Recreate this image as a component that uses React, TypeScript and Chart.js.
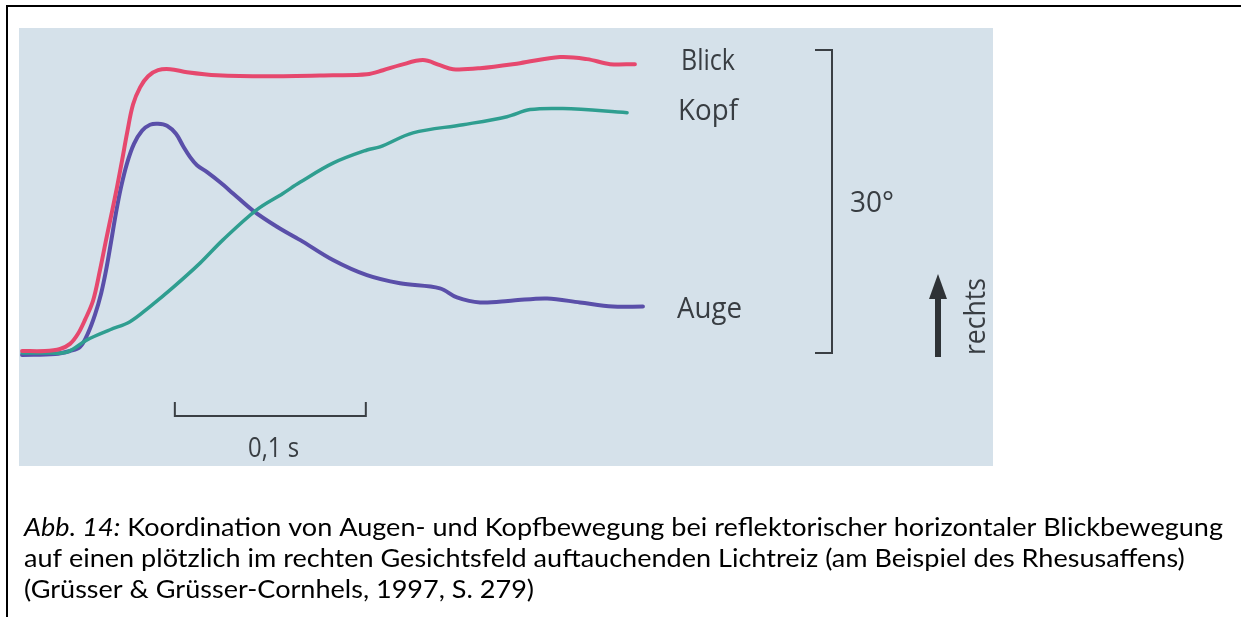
import React, { useEffect, useRef } from "react";
import { Chart, registerables } from "chart.js";

Chart.register(...registerables);

// Zeit in ms, Winkel in Grad (nach rechts positiv)
const blickT = [0, 12, 19.9, 25.1, 29.3, 33.0, 37.2, 40.8, 44.0, 47.1, 49.7, 52.4, 55.0, 58.1, 61.8, 66.0, 71.2, 77.5, 86.4, 102.1, 128.3, 162.8, 180.6, 189, 197.9, 209.9, 218.8, 225.7, 239.8, 260.7, 281.7, 295.8, 307.9, 320.9];
const blickDeg = [0.2, 0.2, 0.4, 0.9, 1.9, 3.3, 5.2, 8.2, 11.2, 14.0, 16.4, 19.1, 21.8, 24.6, 26.3, 27.4, 28.0, 28.1, 27.8, 27.5, 27.4, 27.5, 27.6, 28.0, 28.5, 29.0, 28.5, 28.1, 28.2, 28.7, 29.3, 29.1, 28.6, 28.6];

const kopfT = [0, 12, 23.6, 34, 46.1, 56.5, 67, 79.1, 93.2, 105.2, 123, 136.6, 145.5, 162.8, 180.6, 187.4, 204.7, 230.9, 253.9, 266, 283.2, 316.8];
const kopfDeg = [0, 0, 0.1, 1.3, 2.3, 3.1, 4.6, 6.5, 8.9, 11.2, 14.2, 15.8, 16.9, 18.8, 20.1, 20.4, 21.8, 22.6, 23.4, 24.1, 24.2, 23.8];

const augeT = [0, 17.3, 25.1, 30.4, 34.6, 38.2, 41.4, 44.0, 46.6, 49.2, 51.8, 55.0, 58.6, 62.8, 67.0, 71.2, 75.9, 80.6, 84.3, 88.0, 91.6, 96.9, 103.7, 110.5, 120.9, 133.5, 145.5, 162.8, 180.6, 197.9, 218.8, 227.7, 239.8, 257.1, 274.9, 292.1, 309.4, 325.1];
const augeDeg = [-0.2, -0.1, 0.2, 0.6, 2.0, 3.8, 5.9, 8.2, 11.0, 13.9, 16.4, 18.8, 20.7, 22.0, 22.6, 22.7, 22.5, 21.7, 20.5, 19.4, 18.6, 17.9, 16.9, 15.8, 14.1, 12.5, 11.2, 9.2, 7.7, 6.9, 6.4, 5.5, 5.0, 5.2, 5.4, 5.0, 4.6, 4.6];

const seriesNames = ["Blick", "Kopf", "Auge"];
const timeBarMs = [80, 180];
const timeBarLabel = "0,1 s";
const angleBarDeg = [0, 30];
const angleBarLabel = "30°";
const directionLabel = "rechts";
const captionItalic = "Abb. 14:";
const captionLines = [
  " Koordination von Augen- und Kopfbewegung bei reflektorischer horizontaler Blickbewegung",
  "auf einen plötzlich im rechten Gesichtsfeld auftauchenden Lichtreiz (am Beispiel des Rhesusaffens)",
  "(Grüsser & Grüsser-Cornhels, 1997, S. 279)",
];

const toPoints = (t: number[], v: number[]) => t.map((x, i) => ({ x, y: v[i] }));

const INK = "#383d42";
const LABEL_FONT = "'Open Sans', 'Noto Sans', sans-serif";
const CAPTION_FONT = "Lato, 'Open Sans', sans-serif";

function drawFitted(ctx: CanvasRenderingContext2D, text: string, x: number, y: number, font: string, width?: number) {
  ctx.font = font;
  const w = ctx.measureText(text).width;
  ctx.save();
  ctx.translate(x, y);
  if (width) ctx.scale(width / w, 1);
  ctx.fillText(text, 0, 0);
  ctx.restore();
}

const figurePlugin = {
  id: "figure",
  beforeDraw(chart: any) {
    const ctx: CanvasRenderingContext2D = chart.ctx;
    const a = chart.chartArea;
    ctx.save();
    ctx.fillStyle = "#ffffff";
    ctx.fillRect(0, 0, chart.width, chart.height);
    ctx.fillStyle = "#d5e1ea";
    ctx.fillRect(a.left, a.top, a.right - a.left, a.bottom - a.top);
    ctx.fillStyle = "#000000";
    ctx.fillRect(6, 5, 2, chart.height - 5);
    ctx.fillRect(6, 5, chart.width - 6, 2);
    ctx.restore();
  },
  afterDraw(chart: any) {
    const ctx: CanvasRenderingContext2D = chart.ctx;
    const xs = chart.scales.x;
    const ys = chart.scales.y;
    ctx.save();
    ctx.fillStyle = INK;
    ctx.strokeStyle = "#3a3f44";
    ctx.lineWidth = 2;
    ctx.textBaseline = "alphabetic";
    ctx.textAlign = "left";

    // series labels
    drawFitted(ctx, seriesNames[0], 681, 70, `30px ${LABEL_FONT}`, 54);
    drawFitted(ctx, seriesNames[1], 678, 120, `30px ${LABEL_FONT}`, 60);
    drawFitted(ctx, seriesNames[2], 677, 318, `30px ${LABEL_FONT}`, 65);

    // time scale bar
    const x0 = xs.getPixelForValue(timeBarMs[0]);
    const x1 = xs.getPixelForValue(timeBarMs[1]);
    const yb = 416;
    ctx.beginPath();
    ctx.moveTo(x0, yb - 14);
    ctx.lineTo(x0, yb);
    ctx.lineTo(x1, yb);
    ctx.lineTo(x1, yb - 14);
    ctx.stroke();
    drawFitted(ctx, timeBarLabel, 248, 457, `28px ${LABEL_FONT}`, 51);

    // angle scale bar
    const ya = ys.getPixelForValue(angleBarDeg[0]);
    const yt = ys.getPixelForValue(angleBarDeg[1]);
    const xb = 832;
    ctx.beginPath();
    ctx.moveTo(xb - 17, yt);
    ctx.lineTo(xb, yt);
    ctx.lineTo(xb, ya);
    ctx.lineTo(xb - 17, ya);
    ctx.stroke();
    drawFitted(ctx, angleBarLabel, 850, 212, `30px ${LABEL_FONT}`, 44);

    // direction arrow
    ctx.fillStyle = "#2e3236";
    ctx.fillRect(935, 296, 6, 61);
    ctx.beginPath();
    ctx.moveTo(938, 274);
    ctx.lineTo(947, 299);
    ctx.lineTo(929, 299);
    ctx.closePath();
    ctx.fill();
    ctx.fillStyle = INK;
    ctx.save();
    ctx.translate(985, 355);
    ctx.rotate(-Math.PI / 2);
    drawFitted(ctx, directionLabel, 0, 0, `30px ${LABEL_FONT}`, 77);
    ctx.restore();

    // caption
    ctx.fillStyle = "#000000";
    const fs = 25;
    ctx.font = `italic ${fs}px ${CAPTION_FONT}`;
    const wi = ctx.measureText(captionItalic).width;
    ctx.font = `${fs}px ${CAPTION_FONT}`;
    const wr = ctx.measureText(captionLines[0]).width;
    const sx = 1199 / (wi + wr);
    const baselines = [536, 567, 598];
    ctx.save();
    ctx.translate(24, baselines[0]);
    ctx.scale(sx, 1);
    ctx.font = `italic ${fs}px ${CAPTION_FONT}`;
    ctx.fillText(captionItalic, 0, 0);
    ctx.font = `${fs}px ${CAPTION_FONT}`;
    ctx.fillText(captionLines[0], wi, 0);
    ctx.restore();
    for (let i = 1; i < captionLines.length; i++) {
      ctx.save();
      ctx.translate(24, baselines[i]);
      ctx.scale(sx, 1);
      ctx.font = `${fs}px ${CAPTION_FONT}`;
      ctx.fillText(captionLines[i], 0, 0);
      ctx.restore();
    }
    ctx.restore();
  },
};

export default function App() {
  const ref = useRef<HTMLCanvasElement | null>(null);
  useEffect(() => {
    document.body.style.margin = "0";
    document.body.style.overflow = "hidden";
    if (!ref.current) return;
    const chart = new Chart(ref.current, {
      type: "line",
      data: {
        datasets: [
          { label: seriesNames[0], data: toPoints(blickT, blickDeg), borderColor: "#e6486e", order: 0 },
          { label: seriesNames[1], data: toPoints(kopfT, kopfDeg), borderColor: "#2f9e90", order: 1, borderWidth: 3.5 },
          { label: seriesNames[2], data: toPoints(augeT, augeDeg), borderColor: "#5a4fa9", order: 2 },
        ],
      },
      options: {
        responsive: false,
        animation: false,
        devicePixelRatio: 1,
        layout: { padding: { left: 19, top: 28, right: 248, bottom: 151 } },
        plugins: { legend: { display: false }, tooltip: { enabled: false }, title: { display: false } },
        scales: {
          x: { type: "linear", min: -1.6, max: 508.4, display: false },
          y: { type: "linear", min: -11.19, max: 32.18, display: false },
        },
        elements: {
          point: { radius: 0 },
          line: { borderWidth: 4, tension: 0.35, borderCapStyle: "round", borderJoinStyle: "round" },
        },
      },
      plugins: [figurePlugin],
    } as any);
    return () => chart.destroy();
  }, []);
  return <canvas ref={ref} width={1241} height={617} style={{ display: "block" }} />;
}
